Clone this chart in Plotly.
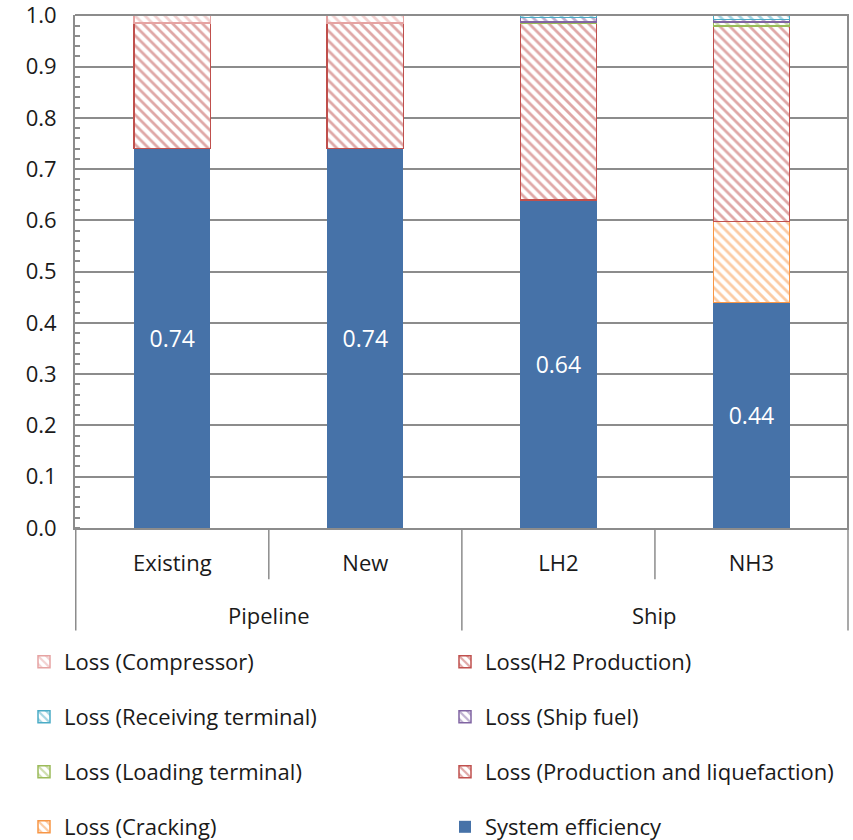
import plotly.graph_objects as go

# Transport routes (sub-category) and their transport mode (group)
routes = ["Existing", "New", "LH2", "NH3"]
modes = ["Pipeline", "Ship"]

# Share of delivered energy, stacked from bottom to top
system_efficiency = [0.74, 0.74, 0.64, 0.44]
loss_cracking = [0.0, 0.0, 0.0, 0.158]
loss_h2_production = [0.245, 0.245, 0.0, 0.0]
loss_production_liquefaction = [0.0, 0.0, 0.344, 0.381]
loss_loading_terminal = [0.0, 0.0, 0.003, 0.008]
loss_ship_fuel = [0.0, 0.0, 0.009, 0.005]
loss_receiving_terminal = [0.0, 0.0, 0.004, 0.008]
loss_compressor = [0.015, 0.015, 0.0, 0.0]

# y-axis ticks
y_ticks = [0.0, 0.1, 0.2, 0.3, 0.4, 0.5, 0.6, 0.7, 0.8, 0.9, 1.0]

FONT = "Open Sans"
TXT = "#1a1a1a"
GRID = "#8c8c8c"
FS = 22

fig = go.Figure()


def hatched(name, values, color, legend):
    fig.add_trace(go.Bar(
        x=routes, y=values, name=name, legend=legend,
        marker=dict(
            color="white",
            line=dict(color=color, width=1.5),
            pattern=dict(shape="\\", fgcolor=color, bgcolor="white",
                         size=7, solidity=0.4, fillmode="overlay"),
        ),
        hoverinfo="skip",
    ))


# Bottom segment: system efficiency with value labels
fig.add_trace(go.Bar(
    x=routes, y=system_efficiency, name="System efficiency", legend="legend8",
    marker=dict(color="#4672A8", line=dict(width=0)),
    text=[f"{v:.2f}" for v in system_efficiency],
    textposition="inside", insidetextanchor="middle",
    textfont=dict(color="white", size=23, family=FONT),
    hoverinfo="skip",
))
hatched("Loss (Cracking)", loss_cracking, "#F79646", "legend7")
hatched("Loss(H2 Production)", loss_h2_production, "#C0504D", "legend2")
hatched("Loss (Production and liquefaction)", loss_production_liquefaction, "#C0504D", "legend6")
hatched("Loss (Loading terminal)", loss_loading_terminal, "#9BBB59", "legend5")
hatched("Loss (Ship fuel)", loss_ship_fuel, "#8064A2", "legend4")
hatched("Loss (Receiving terminal)", loss_receiving_terminal, "#4BACC6", "legend3")
hatched("Loss (Compressor)", loss_compressor, "#E6A3A2", "legend")

# One legend per entry: two columns, four rows
row_centres = [662, 717, 772, 827]
col_left = [24, 445]
legend_keys = ["legend", "legend2", "legend3", "legend4",
               "legend5", "legend6", "legend7", "legend8"]
legends = {}
for i, key in enumerate(legend_keys):
    row, col = divmod(i, 2)
    legends[key] = dict(
        orientation="h", xref="container", yref="container",
        x=col_left[col] / 853, xanchor="left",
        y=1 - row_centres[row] / 840, yanchor="middle",
        font=dict(size=FS, family=FONT, color=TXT),
        bgcolor="rgba(0,0,0,0)", borderwidth=0,
    )

# Axis frame: top border, right border, group dividers and label box
shapes = [dict(type="line", xref="paper", yref="paper", x0=0, x1=1, y0=1, y1=1,
               layer="above", line=dict(color=GRID, width=2))]
for xv, bottom in [(-0.5, -0.2), (0.5, -0.1), (1.5, -0.2), (2.5, -0.1), (3.5, -0.2)]:
    shapes.append(dict(type="line", xref="x", yref="paper", x0=xv, x1=xv,
                       y0=bottom, y1=0, line=dict(color=GRID, width=1.5)))
shapes.append(dict(type="line", xref="x", yref="paper", x0=3.5, x1=3.5,
                   y0=0, y1=1, line=dict(color=GRID, width=2)))

annotations = []
for label, xc in zip(modes, [0.5, 2.5]):
    annotations.append(dict(text=label, x=xc, xref="x", y=-0.17, yref="paper",
                            showarrow=False, yanchor="middle",
                            font=dict(size=FS, family=FONT, color=TXT)))

fig.update_layout(
    width=853, height=840,
    margin=dict(l=75, r=4, t=15, b=312, autoexpand=False),
    barmode="stack", bargap=0.605,
    paper_bgcolor="white", plot_bgcolor="white",
    font=dict(family=FONT, size=FS, color=TXT),
    showlegend=True,
    shapes=shapes, annotations=annotations,
    **legends,
)
fig.update_xaxes(
    type="category", showgrid=False, showline=True, linecolor=GRID, linewidth=2,
    ticks="", ticklabelstandoff=15, automargin=False,
    tickfont=dict(size=FS, family=FONT, color=TXT),
)
fig.update_yaxes(
    range=[0, 1.0005], tickmode="array", tickvals=y_ticks,
    ticktext=[f"{v:.1f}" for v in y_ticks],
    showgrid=True, gridcolor=GRID, automargin=False, ticklabeloverflow="allow",
    gridwidth=1.5, showline=True, linecolor=GRID, linewidth=2, zeroline=False,
    ticks="", ticklabelstandoff=12, tickfont=dict(size=FS, family=FONT, color=TXT),
    minor=dict(dtick=0.02, ticks="inside", ticklen=5, tickcolor=GRID, tickwidth=1.5,
               showgrid=False),
)

fig.write_html("out.html")
